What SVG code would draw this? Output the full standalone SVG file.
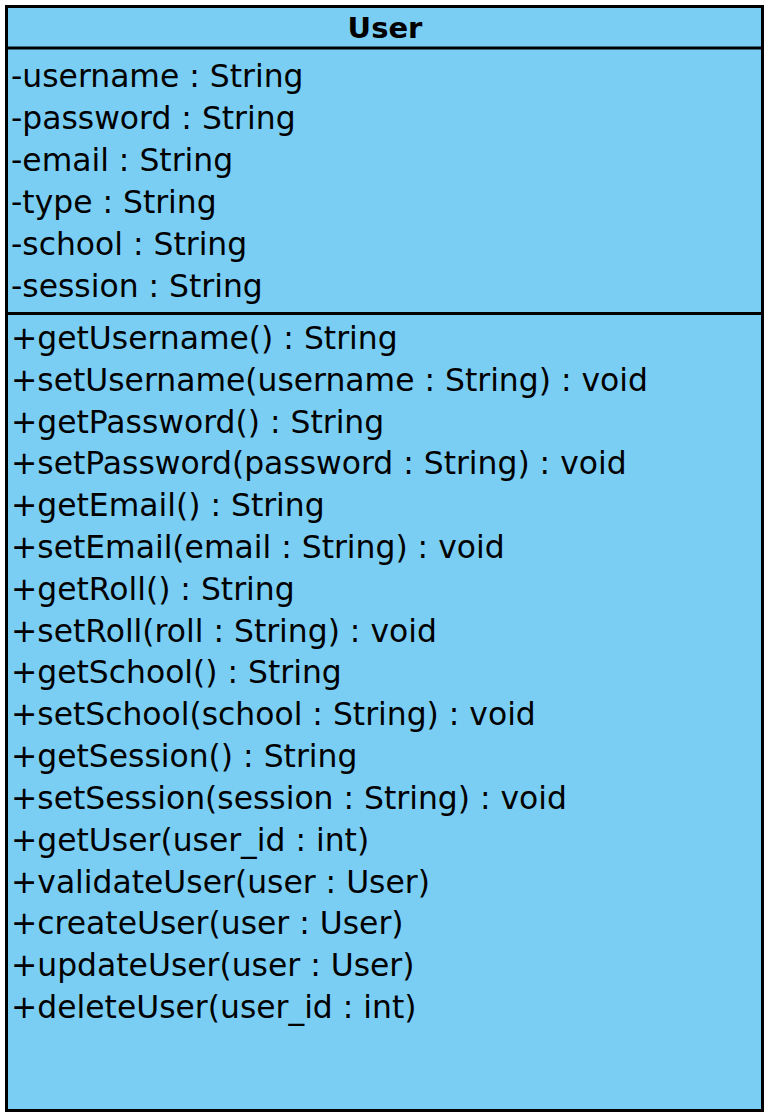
<svg xmlns="http://www.w3.org/2000/svg" width="772" height="1118" viewBox="0 0 772 1118">
<style>
.t{font-family:"DejaVu Sans","Liberation Sans",sans-serif;font-size:31.4px;fill:#000}
.h{font-family:"DejaVu Sans","Liberation Sans",sans-serif;font-size:29px;font-weight:bold;fill:#000}
.ln{stroke:#000;stroke-width:3;fill:none}
</style>
<rect width="772" height="1118" fill="#fff"/>
<g id="User">
<rect x="6.5" y="6.5" width="756" height="1104" fill="#7ACEF4" stroke="#000" stroke-width="3"/>
<line class="ln" x1="6.5" y1="48" x2="762.5" y2="48"/>
<line class="ln" x1="6.5" y1="313.5" x2="762.5" y2="313.5"/>
<text class="h" x="385" y="38" text-anchor="middle">User</text>
<text class="t" x="11" y="87">-username : String</text>
<text class="t" x="11" y="129">-password : String</text>
<text class="t" x="11" y="171">-email : String</text>
<text class="t" x="11" y="213">-type : String</text>
<text class="t" x="11" y="255">-school : String</text>
<text class="t" x="11" y="297">-session : String</text>
<text class="t" x="11" y="349">+getUsername() : String</text>
<text class="t" x="11" y="391">+setUsername(username : String) : void</text>
<text class="t" x="11" y="433">+getPassword() : String</text>
<text class="t" x="11" y="474">+setPassword(password : String) : void</text>
<text class="t" x="11" y="516">+getEmail() : String</text>
<text class="t" x="11" y="558">+setEmail(email : String) : void</text>
<text class="t" x="11" y="600">+getRoll() : String</text>
<text class="t" x="11" y="642">+setRoll(roll : String) : void</text>
<text class="t" x="11" y="683">+getSchool() : String</text>
<text class="t" x="11" y="725">+setSchool(school : String) : void</text>
<text class="t" x="11" y="767">+getSession() : String</text>
<text class="t" x="11" y="809">+setSession(session : String) : void</text>
<text class="t" x="11" y="851">+getUser(user_id : int)</text>
<text class="t" x="11" y="893">+validateUser(user : User)</text>
<text class="t" x="11" y="934">+createUser(user : User)</text>
<text class="t" x="11" y="976">+updateUser(user : User)</text>
<text class="t" x="11" y="1018">+deleteUser(user_id : int)</text>
</g>
<g id="connectors"/>
</svg>
